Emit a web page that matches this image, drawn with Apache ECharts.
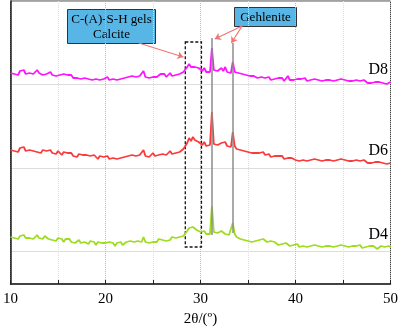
<!DOCTYPE html>
<html>
<head>
<meta charset="utf-8">
<script src="https://cdn.jsdelivr.net/npm/echarts@6/dist/echarts.min.js"></script>
<style>
  html, body { margin: 0; padding: 0; background: #fff; }
  #chart { width: 401px; height: 333px; }
</style>
</head>
<body>
<div id="chart"></div>
<script>
// 2θ sampling: 10° .. 50°, step 0.2°
const thetaStart = 10
const thetaStep = 0.2
// intensity (a.u., offset stacked), one row = 2°
const d4 = [
  47, 49, 46, 48, 45, 48, 47, 49, 46, 48,
  46, 48, 45, 47, 49, 46, 47, 45, 48, 46,
  45, 47, 44, 46, 43, 46, 44, 45, 42, 45,
  43, 45, 42, 44, 41, 43, 44, 41, 43, 42,
  42, 40, 43, 41, 42, 39, 42, 40, 41, 39,
  41, 39, 42, 40, 41, 38, 41, 40, 42, 39,
  41, 42, 40, 43, 41, 42, 40, 43, 41, 42,
  47, 42, 44, 41, 43, 42, 44, 42, 45, 43,
  44, 46, 43, 45, 44, 47, 45, 46, 44, 47,
  47, 48, 50, 53, 56, 54, 57, 55, 54, 53,
  52, 50, 53, 50, 51, 50, 78, 52, 50, 51,
  50, 53, 51, 50, 52, 49, 51, 61, 50, 47,
  46, 45, 47, 44, 45, 43, 44, 42, 44, 43,
  42, 44, 43, 45, 43, 42, 41, 43, 41, 42,
  41, 39, 41, 40, 39, 41, 40, 38, 40, 39,
  38, 40, 37, 39, 38, 40, 37, 39, 38, 37,
  39, 37, 38, 40, 37, 39, 38, 36, 38, 39,
  37, 39, 38, 36, 39, 37, 38, 40, 37, 38,
  38, 36, 38, 37, 39, 36, 38, 37, 36, 38,
  36, 38, 37, 35, 37, 38, 36, 37, 35, 38,
  37
]
const d6 = [
  134, 136, 133, 135, 132, 136, 134, 137, 133, 135,
  134, 136, 133, 135, 132, 134, 131, 134, 132, 133,
  132, 134, 131, 133, 130, 133, 131, 129, 132, 130,
  131, 129, 131, 128, 130, 127, 130, 128, 129, 127,
  129, 127, 128, 126, 129, 127, 125, 128, 126, 127,
  126, 128, 125, 127, 126, 128, 125, 127, 126, 128,
  127, 125, 128, 126, 129, 127, 128, 126, 129, 127,
  134, 128, 130, 127, 129, 131, 128, 130, 129, 131,
  130, 132, 129, 131, 133, 130, 132, 131, 133, 132,
  133, 135, 137, 141, 146, 143, 147, 144, 145, 142,
  141, 139, 142, 138, 137, 139, 172, 140, 138, 139,
  138, 141, 139, 142, 138, 140, 137, 152, 138, 135,
  133, 134, 132, 133, 131, 132, 130, 131, 129, 131,
  129, 131, 130, 132, 129, 128, 130, 127, 129, 128,
  127, 128, 126, 128, 125, 127, 126, 124, 126, 125,
  124, 126, 123, 125, 124, 126, 123, 125, 124, 123,
  125, 123, 124, 126, 123, 125, 124, 122, 124, 125,
  123, 125, 124, 122, 125, 123, 124, 126, 123, 124,
  123, 121, 124, 122, 123, 121, 124, 122, 121, 123,
  121, 123, 122, 120, 122, 123, 121, 122, 120, 122,
  121
]
const d8 = [
  211, 213, 210, 212, 209, 213, 211, 214, 210, 212,
  211, 213, 210, 212, 214, 211, 212, 209, 211, 210,
  210, 212, 209, 211, 208, 210, 209, 207, 210, 208,
  209, 207, 209, 206, 208, 206, 208, 205, 207, 206,
  207, 205, 207, 204, 206, 205, 207, 204, 206, 205,
  205, 207, 204, 206, 205, 207, 204, 206, 205, 207,
  206, 204, 207, 205, 208, 206, 207, 205, 208, 206,
  213, 207, 209, 206, 208, 207, 209, 207, 208, 210,
  208, 210, 207, 209, 211, 208, 210, 209, 211, 210,
  211, 212, 214, 217, 220, 217, 219, 217, 218, 216,
  215, 213, 216, 212, 213, 212, 236, 214, 212, 213,
  212, 216, 213, 217, 212, 214, 211, 222, 212, 210,
  211, 209, 210, 208, 209, 207, 208, 206, 208, 207,
  206, 208, 207, 209, 206, 205, 207, 204, 206, 205,
  205, 206, 204, 206, 203, 205, 208, 204, 205, 204,
  204, 205, 203, 205, 204, 206, 203, 205, 204, 203,
  205, 203, 204, 206, 203, 205, 204, 202, 204, 205,
  203, 205, 204, 202, 205, 203, 204, 205, 203, 204,
  203, 201, 204, 202, 203, 201, 204, 202, 201, 203,
  201, 203, 202, 200, 202, 203, 201, 202, 200, 202,
  202
]
const seriesNames = ['D4', 'D6', 'D8']
const seriesColors = ['#9ddc1e', '#f83c3c', '#ff14ff']
const xTicks = [10, 20, 30, 40, 50]

const serif = 'Liberation Serif'
const chart = echarts.init(document.getElementById('chart'))

function toPairs(values) {
  return values.map((v, i) => [+(thetaStart + i * thetaStep).toFixed(1), v])
}

const arrowStyle = { color: '#f07474', width: 1.2, type: 'solid' }

let option = {
  animation: false,
  grid: {
    left: 8, right: 8, top: 1, bottom: 49,
    show: true, borderColor: '#444', borderWidth: 1
  },
  xAxis: {
    type: 'value',
    min: xTicks[0],
    max: xTicks[xTicks.length - 1],
    interval: 10,
    axisLine: { lineStyle: { color: '#222', width: 1.5 } },
    axisTick: { inside: true, length: 4, lineStyle: { color: '#222' } },
    minorTick: { show: true, splitNumber: 2, length: 4, lineStyle: { color: '#222' } },
    axisLabel: { color: '#000', fontFamily: serif, fontSize: 15, margin: 8 },
    splitLine: { show: true, lineStyle: { color: '#bbb', type: 'dotted' } },
    minorSplitLine: { show: true, lineStyle: { color: '#ddd', type: 'dotted' } },
    name: '2θ/(º)',
    nameLocation: 'middle',
    nameGap: 27,
    nameTextStyle: { color: '#000', fontFamily: serif, fontSize: 15 }
  },
  yAxis: [
    {
      type: 'value', min: 0, max: 283,
      axisLine: { show: true, lineStyle: { color: '#222', width: 1.5 } },
      axisTick: { show: false }, axisLabel: { show: false }, splitLine: { show: false }
    },
    {
      // only draws the dotted horizontal guides
      type: 'value', inverse: true, min: 0, max: 283, interval: 83.5,
      axisLine: { show: false }, axisTick: { show: false }, axisLabel: { show: false },
      splitLine: { show: true, lineStyle: { color: '#bbb', type: 'dotted' } }
    }
  ],
  series: [d4, d6, d8].map((vals, k) => ({
    name: seriesNames[k],
    type: 'line',
    yAxisIndex: 0,
    data: toPairs(vals),
    showSymbol: false,
    symbol: 'none',
    lineStyle: { color: seriesColors[k], width: 1.8 },
    z: 3,
    endLabel: {
      show: true, formatter: seriesNames[k], color: '#000',
      fontFamily: serif, fontSize: 16, offset: [-30, -12]
    }
  }))
}

// annotations: peak guide lines, dashed box, arrows
option.series.push({
  type: 'line', data: [], yAxisIndex: 0, silent: true, z: 2,
  markLine: {
    symbol: 'none', silent: true, label: { show: false },
    lineStyle: { color: '#8c8c8c', width: 1.5, type: 'solid' },
    data: [
      [{ coord: [31.2, 246] }, { coord: [31.2, 49] }],
      [{ coord: [33.4, 241] }, { coord: [33.4, 51] }]
    ]
  },
  markArea: {
    silent: true,
    itemStyle: { color: 'rgba(0,0,0,0)', borderColor: '#111', borderWidth: 1.3, borderType: [3, 2] },
    data: [[{ coord: [28.4, 242] }, { coord: [30.1, 37] }]]
  }
})
option.series.push({
  type: 'line', data: [], yAxisIndex: 0, silent: true, z: 5,
  markLine: {
    symbol: ['none', 'arrow'], symbolSize: 6, silent: true, label: { show: false },
    lineStyle: arrowStyle,
    data: [
      [{ coord: [23.5, 241] }, { coord: [28.2, 227] }],
      [{ coord: [34.38, 258] }, { coord: [31.5, 245] }],
      [{ coord: [34.38, 258] }, { coord: [33.25, 241] }]
    ]
  }
})

option.graphic = [
  {
    type: 'group', left: 67, top: 9, z: 10,
    children: [
      { type: 'rect', shape: { x: 0, y: 0, width: 88, height: 34 },
        style: { fill: '#58b6e6', stroke: '#333', lineWidth: 1 } },
      { type: 'text', x: 44, y: 10, style: { text: 'C-(A)-S-H gels', fill: '#000', font: '13px "Liberation Serif"', align: 'center', verticalAlign: 'middle' } },
      { type: 'text', x: 44, y: 25, style: { text: 'Calcite', fill: '#000', font: '13px "Liberation Serif"', align: 'center', verticalAlign: 'middle' } }
    ]
  },
  {
    type: 'group', left: 234, top: 7, z: 10,
    children: [
      { type: 'rect', shape: { x: 0, y: 0, width: 62, height: 19 },
        style: { fill: '#58b6e6', stroke: '#333', lineWidth: 1 } },
      { type: 'text', x: 31, y: 10, style: { text: 'Gehlenite', fill: '#000', font: '13px "Liberation Serif"', align: 'center', verticalAlign: 'middle' } }
    ]
  }
]

chart.setOption(option)
</script>
</body>
</html>
